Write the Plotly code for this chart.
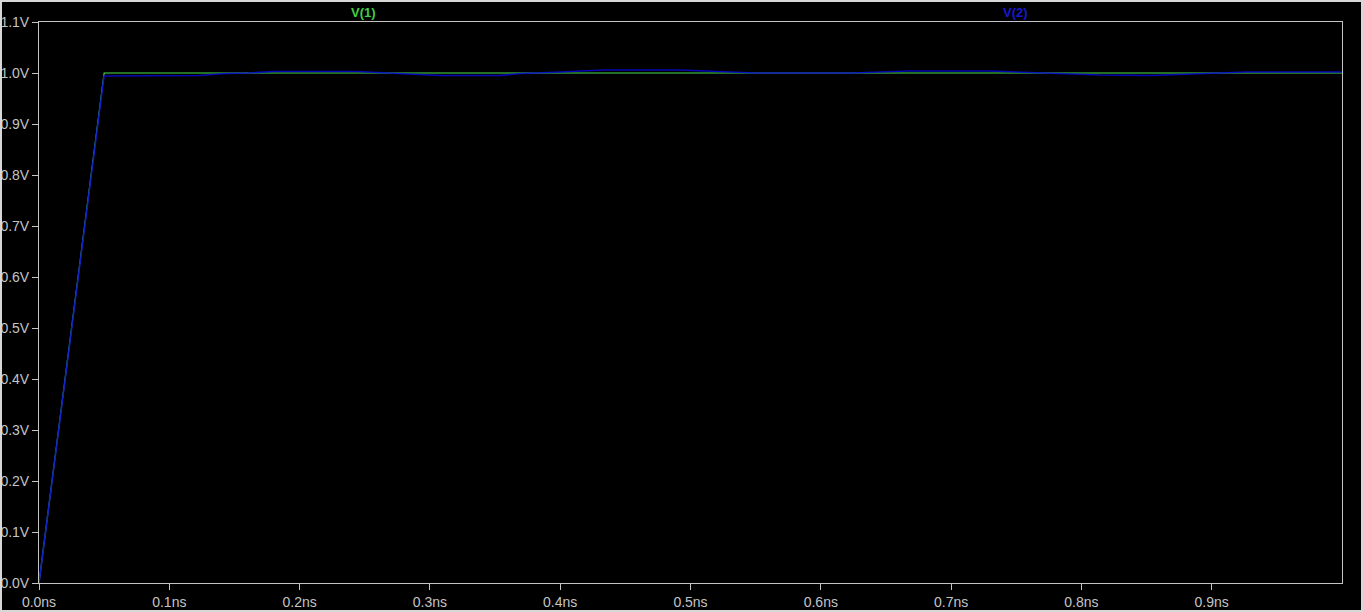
import plotly.graph_objects as go

# time in ns
t_v1 = [0.0, 0.05, 1.0]
v1 = [0.0, 1.0, 1.0]

t_v2 = [0.0, 0.0499, 0.1236, 0.1428, 0.1604, 0.1796, 0.2440, 0.2640, 0.2832, 0.3078,
        0.3538, 0.3699, 0.3868, 0.4006, 0.4152, 0.4344, 0.4919, 0.5111, 0.5303, 0.5503,
        0.5702, 0.6239, 0.6454, 0.6669, 0.7298, 0.7513, 0.7675, 0.7821, 0.8143, 0.8527,
        0.8880, 0.9064, 0.9263, 0.9969, 1.0]
v2 = [0.0, 0.994, 0.995, 0.999, 1.000, 1.003, 1.003, 1.000, 0.998, 0.995,
      0.995, 0.999, 1.000, 1.002, 1.004, 1.006, 1.006, 1.004, 1.002, 1.000,
      1.000, 1.000, 1.002, 1.004, 1.004, 1.002, 1.000, 0.998, 0.996, 0.995,
      0.999, 1.000, 1.002, 1.002, 1.002]

y_ticks = [0.0, 0.1, 0.2, 0.3, 0.4, 0.5, 0.6, 0.7, 0.8, 0.9, 1.0, 1.1]
y_labels = ["0.0V", "0.1V", "0.2V", "0.3V", "0.4V", "0.5V", "0.6V", "0.7V", "0.8V", "0.9V", "1.0V", "1.1V"]
x_ticks = [0.0, 0.1, 0.2, 0.3, 0.4, 0.5, 0.6, 0.7, 0.8, 0.9]
x_labels = ["0.0ns", "0.1ns", "0.2ns", "0.3ns", "0.4ns", "0.5ns", "0.6ns", "0.7ns", "0.8ns", "0.9ns"]

W, H = 1363, 612
L, R, T, B = 39, 21, 22, 29
pw, ph = W - L - R, H - T - B

def px(x):
    return (x - L) / pw

def py(y):
    return (H - B - y) / ph

fig = go.Figure()
fig.add_trace(go.Scatter(x=t_v1, y=v1, mode="lines", name="V(1)",
                         line=dict(color="#48e048", width=1.2)))
fig.add_trace(go.Scatter(x=t_v2, y=v2, mode="lines", name="V(2)",
                         line=dict(color="#0808d8", width=1.6), opacity=0.85))

gray = "#c4c4c4"
axis_common = dict(showgrid=False, zeroline=False, showline=True, linecolor=gray,
                   linewidth=1, mirror=True, ticks="outside", ticklen=6, tickcolor=gray,
                   automargin=False,
                   tickfont=dict(family="Liberation Sans, Arial", size=14, color=gray))
fig.update_xaxes(range=[0, 1.0], tickvals=x_ticks, ticktext=x_labels, **axis_common)
fig.update_yaxes(range=[0, 1.1], tickvals=y_ticks, ticktext=y_labels, **axis_common)

fig.add_annotation(x=px(363), y=py(12), xref="paper", yref="paper", text="<b>V(1)</b>",
                   xanchor="center", yanchor="middle",
                   showarrow=False, font=dict(family="Liberation Sans, Arial", size=13, color="#40d040"))
fig.add_annotation(x=px(1015), y=py(12), xref="paper", yref="paper", text="<b>V(2)</b>",
                   xanchor="center", yanchor="middle",
                   showarrow=False, font=dict(family="Liberation Sans, Arial", size=13, color="#1818d0"))

# window border
fig.add_shape(type="rect", xref="paper", yref="paper",
              x0=px(1), x1=px(1362), y0=py(611), y1=py(1),
              line=dict(color="#d8d8d8", width=2), layer="above")

fig.update_layout(width=W, height=H, margin=dict(l=L, r=R, t=T, b=B),
                  paper_bgcolor="black", plot_bgcolor="black", showlegend=False)

fig.write_html("out.html", config={"displayModeBar": False},
               post_script="document.body.style.margin='0';document.body.style.overflow='hidden';")
